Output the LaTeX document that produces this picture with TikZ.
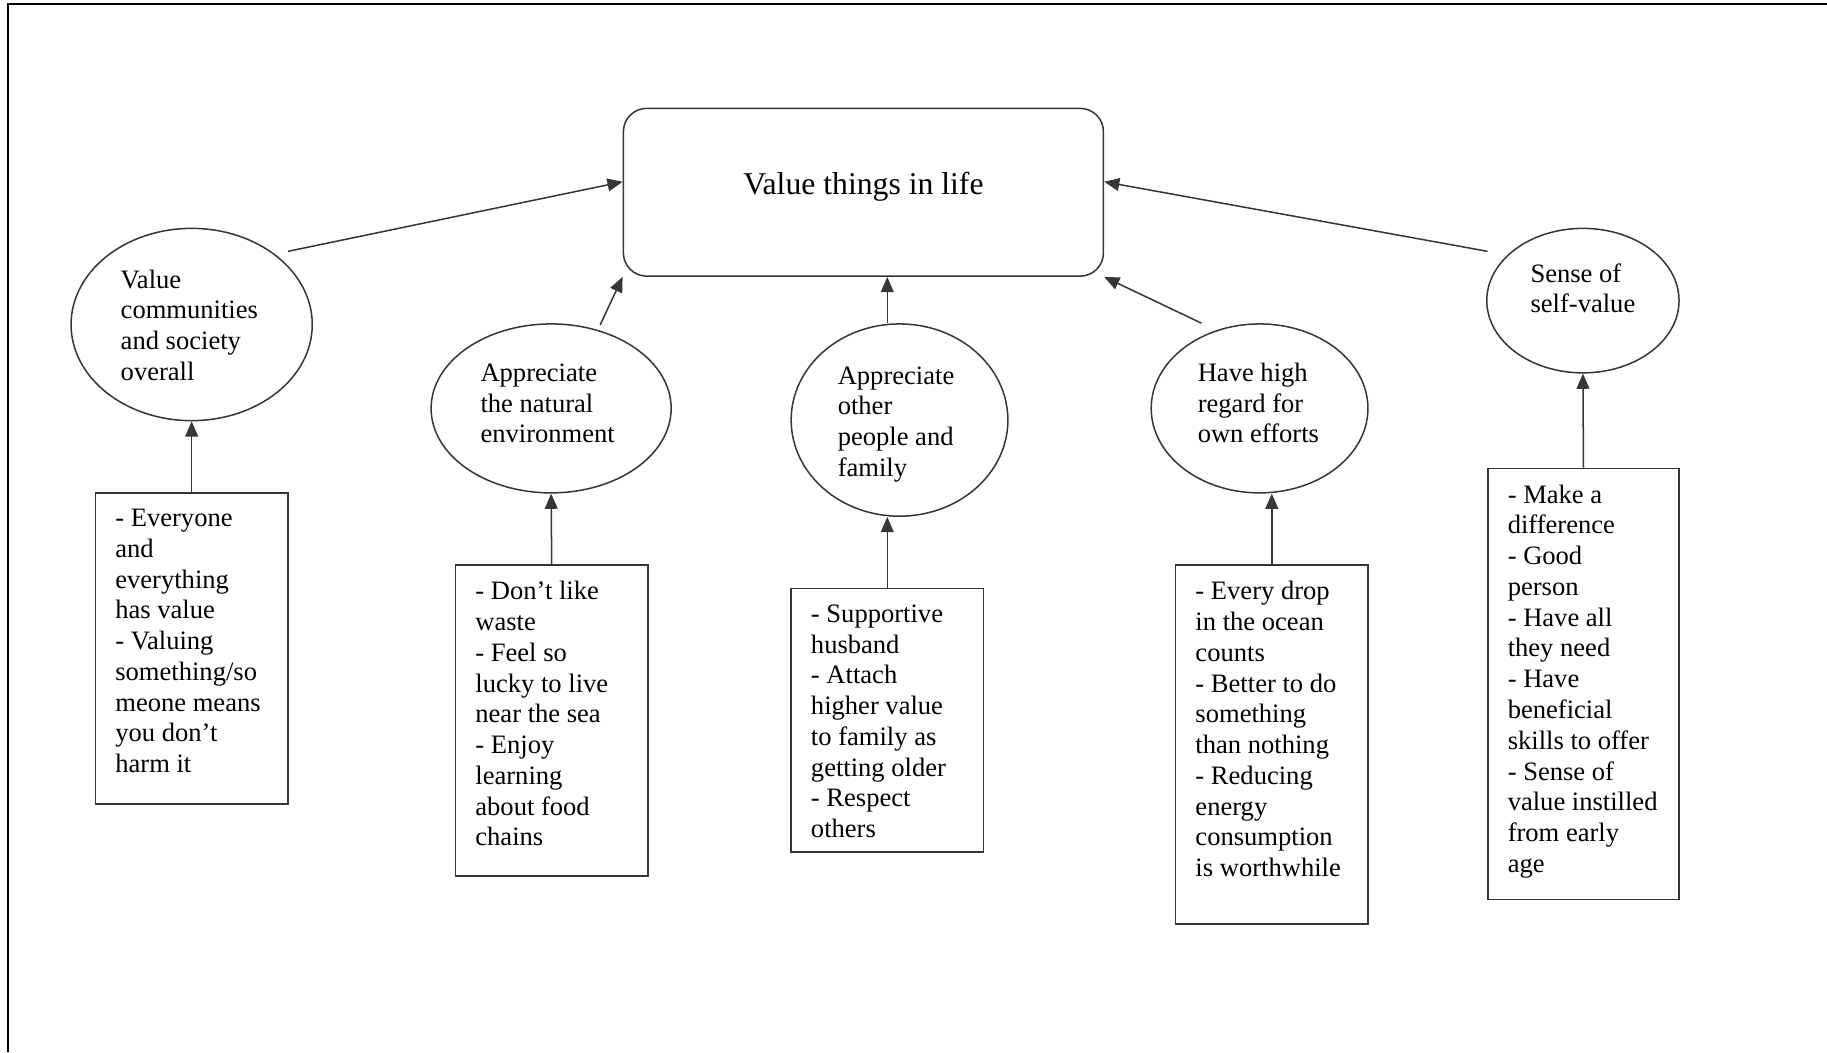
\documentclass[tikz,border=0pt]{standalone}
\usepackage{fontspec}
\setmainfont{Liberation Serif}
\usetikzlibrary{arrows.meta,shapes.geometric,calc}
\definecolor{ln}{HTML}{363636}
\newcommand{\bxt}[3]{\parbox[c][#2][t]{#1}{\raggedright\leftskip=17pt\relax\vspace*{14pt}#3}}
\newcommand{\etx}[3]{\raisebox{#1}[\height][\depth]{\kern#2\begin{tabular}{@{}l@{}}#3\end{tabular}}}
\begin{document}
\begin{tikzpicture}[x=1pt,y=-1pt,
  txt/.style={font=\fontsize{22.8}{26.4}\selectfont},
  ell/.style={ellipse,draw=ln,line width=1.3pt,inner sep=0pt,txt},
  bx/.style={rectangle,draw=ln,line width=1.3pt,inner sep=0pt,txt},
  arr/.style={draw=ln,line width=1.3pt,-{Triangle[length=13pt,width=11pt]}}]
\useasboundingbox (0,0) rectangle (1568,903);
% frame
\draw[line width=1.8pt,black] (1568,3.4) -- (7,3.4) -- (7,903);
% main
\node[draw=ln,line width=1.3pt,rounded corners=20pt,minimum width=412pt,minimum height=144pt,inner sep=0pt,font=\fontsize{27.2}{31}\selectfont] (main) at (741,165) {\raisebox{5pt}[\height][\depth]{Value things in life}};
% ellipses
\node[ell,minimum width=207pt,minimum height=165pt] (e1) at (164.5,278.5) {\etx{-3pt}{-4pt}{Value\\communities\\and society\\overall}};
\node[ell,minimum width=206pt,minimum height=145pt] (e2) at (473,350.5) {\etx{2pt}{-6pt}{Appreciate\\the natural\\environment}};
\node[ell,minimum width=186pt,minimum height=165pt] (e3) at (772,360.5) {\etx{-3.5pt}{-6pt}{Appreciate\\other\\people and\\family}};
\node[ell,minimum width=186pt,minimum height=145pt] (e4) at (1081,350.5) {\etx{2pt}{-2pt}{Have high\\regard for\\own efforts}};
\node[ell,minimum width=165pt,minimum height=124pt] (e5) at (1358.5,258) {\etx{8pt}{0pt}{Sense of\\self-value}};
% boxes
\node[bx] (b1) at (164.5,556.5) {\bxt{165pt}{267pt}{- Everyone\\and\\everything\\has value\\- Valuing\\something/so\\meone means\\you don’t\\harm it}};
\node[bx] (b2) at (473.5,618.5) {\bxt{165pt}{267pt}{- Don’t like\\waste\\- Feel so\\lucky to live\\near the sea\\- Enjoy\\learning\\about food\\chains}};
\node[bx] (b3) at (761.5,618) {\bxt{165pt}{226pt}{- Supportive\\husband\\- Attach\\higher value\\to family as\\getting older\\- Respect\\others}};
\node[bx] (b4) at (1091.5,639) {\bxt{165pt}{308pt}{- Every drop\\in the ocean\\counts\\- Better to do\\something\\than nothing\\- Reducing\\energy\\consumption\\is worthwhile}};
\node[bx] (b5) at (1359,587) {\bxt{164pt}{370pt}{- Make a\\difference\\- Good\\person\\- Have all\\they need\\- Have\\beneficial\\skills to offer\\- Sense of\\value instilled\\from early\\age}};
% connectors
\draw[arr] ([shift={(9,-4)}]e1.north east) -- ([shift={(0,-9)}]main.west);
\draw[arr] ([shift={(3,-4)}]e2.60) -- (main.south west);
\draw[arr] (b3.north |- e3.north) -- (b3.north |- main.south);
\draw[arr] ([shift={(-5,-9)}]e4.125) -- (main.south east);
\draw[arr] ([shift={(-23,2)}]e5.north west) -- ([shift={(0,-9)}]main.east);
\draw[arr] (b1.north) -- (e1.south);
\draw[arr] (b2.north) -- (e2.south);
\draw[arr] (b3.north) -- (b3.north |- e3.south);
\draw[arr] (b4.north) -- (b4.north |- e4.south);
\draw[arr] (b5.north) -- (e5.south);
\end{tikzpicture}
\end{document}
